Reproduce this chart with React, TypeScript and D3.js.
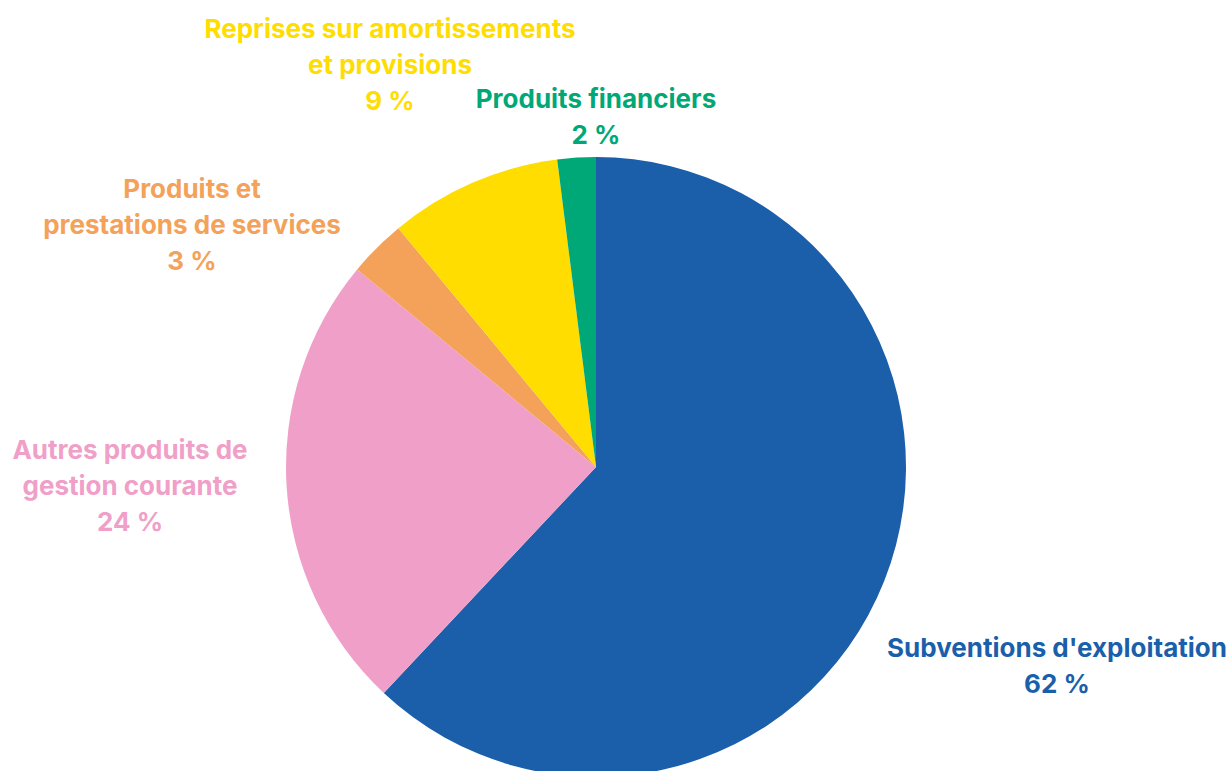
import React, { useEffect, useRef } from "react";
import * as d3 from "d3";

const categories = [
  "Subventions d'exploitation",
  "Autres produits de gestion courante",
  "Produits et prestations de services",
  "Reprises sur amortissements et provisions",
  "Produits financiers",
];
const values = [62, 24, 3, 9, 2];
const colors = ["#1b5fab", "#f0a0c8", "#f4a259", "#ffdd00", "#00a878"];
const labelLines = [
  ["Subventions d'exploitation"],
  ["Autres produits de", "gestion courante"],
  ["Produits et", "prestations de services"],
  ["Reprises sur amortissements", "et provisions"],
  ["Produits financiers"],
];
// label block center positions (x, y of first line center)
const labelAnchors: [number, number][] = [
  [1057, 647],
  [130, 449],
  [192, 188],
  [390, 28],
  [596, 98],
];

const W = 1231;
const H = 771;
const CX = 596;
const CY = 467;
const R = 310;

export default function App() {
  const ref = useRef<SVGSVGElement>(null);
  useEffect(() => {
    const svg = d3.select(ref.current);
    svg.selectAll("*").remove();
    const pie = d3.pie<number>().sort(null).value((d) => d);
    const arcs = pie(values);
    const arc = d3.arc<d3.PieArcDatum<number>>().innerRadius(0).outerRadius(R);
    const g = svg.append("g").attr("transform", `translate(${CX},${CY})`);
    g.selectAll("path")
      .data(arcs)
      .join("path")
      .attr("d", arc as any)
      .attr("fill", (_, i) => colors[i]);

    const lh = 36;
    categories.forEach((c, i) => {
      const [x, y] = labelAnchors[i];
      const t = svg
        .append("text")
        .attr("text-anchor", "middle")
        .attr("font-family", "Inter, sans-serif")
        .attr("font-weight", 700)
        .attr("font-size", 26)
        .attr("fill", colors[i]);
      const lines = [...labelLines[i], `${values[i]} %`];
      lines.forEach((l, j) => {
        t.append("tspan")
          .attr("x", x)
          .attr("y", y + j * lh)
          .attr("dominant-baseline", "central")
          .text(l);
      });
    });
  }, []);
  return (
    <svg
      ref={ref}
      width={W}
      height={H}
      style={{ position: "absolute", left: 0, top: 0, background: "#fff" }}
    />
  );
}
